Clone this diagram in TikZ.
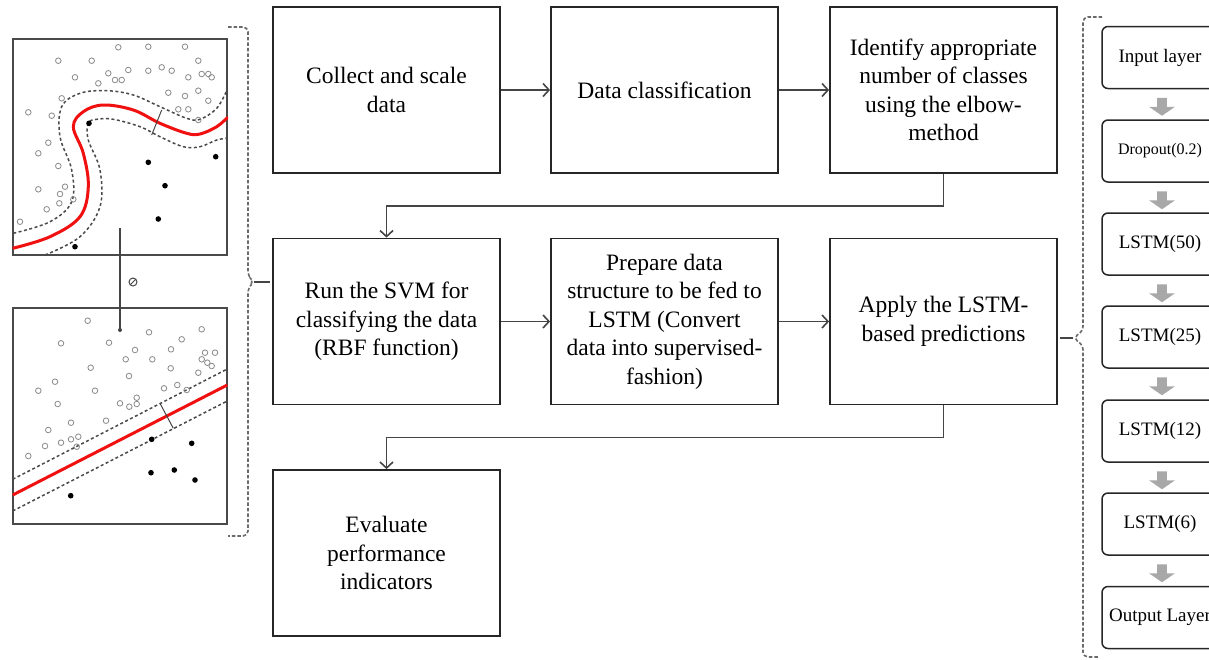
\documentclass[tikz,border=0pt]{standalone}
\usepackage{fontspec}
\setmainfont{Liberation Serif}
\usetikzlibrary{arrows.meta}

\definecolor{framegray}{HTML}{4A4A4A}
\definecolor{conngray}{HTML}{454545}
\definecolor{dashgray}{HTML}{6A6A6A}
\definecolor{blockgray}{HTML}{A8A8A8}
\definecolor{dotgray}{HTML}{8A8A8A}
\definecolor{svmred}{HTML}{F01010}

\begin{document}
\begin{tikzpicture}[x=1pt,y=-1pt,
  stepbox/.style={draw=black!85, line width=1.8pt, minimum width=227pt,
    minimum height=166pt, inner sep=0pt, align=center,
    font=\fontsize{23.5}{28.5}\selectfont},
  layerbox/.style={draw=black!85, line width=1.5pt, rounded corners=6pt,
    minimum width=116pt, minimum height=62pt, inner sep=0pt,
    font=\fontsize{19}{22}\selectfont},
  conn/.style={draw=conngray, line width=1.8pt,
    -{Straight Barb[length=6pt,width=13pt,line width=1.6pt]}},
  blockarrow/.style={fill=blockgray},
  bracedash/.style={draw=dashgray, line width=1.6pt, dash pattern=on 3.5pt off 2pt},
  panel/.style={draw=framegray, line width=2pt, minimum width=214pt,
    minimum height=216pt, inner sep=0pt},
  margin/.style={draw=framegray, line width=1.5pt, dash pattern=on 3pt off 2.5pt},
  boundary/.style={draw=svmred, line width=3pt},
  opendot/.style={draw=dotgray, line width=0.8pt},
  fulldot/.style={fill=black}
]
\useasboundingbox (0,0) rectangle (1209,659);
\fill[white] (0,0) rectangle (1209,659);

% ---------- flow chart ----------
\node[stepbox] (collect) at (386.5,90) {Collect and scale\\data};
\node[stepbox] (classify) at (664.5,90) {Data classification};
\node[stepbox] (elbow) at (943.5,90) {Identify appropriate\\number of classes\\using the elbow-\\method};
\node[stepbox] (svm) at (386.5,321.5) {Run the SVM for\\classifying the data\\(RBF function)};
\node[stepbox] (prep) at (664.5,321.5) {Prepare data\\structure to be fed to\\LSTM (Convert\\data into supervised-\\fashion)};
\node[stepbox] (apply) at (943.5,321.5) {Apply the LSTM-\\based predictions};
\node[stepbox] (evaluate) at (386.5,553) {Evaluate\\performance\\indicators};

\draw[conn] (collect) -- (classify);
\draw[conn] (classify) -- (elbow);
\draw[conn] (elbow.south) -- ++(0,32) -| (svm.north);
\draw[conn] (svm) -- (prep);
\draw[conn] (prep) -- (apply);
\draw[conn] (apply.south) -- ++(0,32) -| (evaluate.north);

% ---------- LSTM stack ----------
\node[layerbox] (l1) at (1160,57.5) {Input layer};
\node[layerbox, font=\fontsize{16}{19}\selectfont] (l2) at (1160,151) {Dropout(0.2)};
\node[layerbox] (l3) at (1160,244) {LSTM(50)};
\node[layerbox] (l4) at (1160,337) {LSTM(25)};
\node[layerbox] (l5) at (1160,431) {LSTM(12)};
\node[layerbox] (l6) at (1160,524) {LSTM(6)};
\node[layerbox] (l7) at (1160,617.5) {Output Layer};
% thick grey block arrows hanging below each layer
\foreach \a in {l1,l2,l3,l4,l5,l6}
  \fill[blockarrow, shift={(\a.south)}, xshift=2pt]
    (-4.8,8.5) -- (4.8,8.5) -- (4.8,17.5) -- (13,17.5) -- (0,26.5)
    -- (-13,17.5) -- (-4.8,17.5) -- cycle;

% brace around the LSTM stack
\draw[bracedash, rounded corners=5pt] (1102,17) -- (1083,17) -- (1083,331)
  -- (1073,338) -- (1083,345) -- (1083,657) -- (1098,657);
\coordinate (rtip) at (1073,338);
\coordinate (rend) at (1060,338);
\draw[conngray, line width=1.5pt] (rtip) -- (rend);

% ---------- SVM panels ----------
\node[panel] (nonlin) at (120,147) {};
\node[panel] (linear) at (120,415.5) {};

% non-linear boundary
\begin{scope}
\clip (nonlin.north west) rectangle (nonlin.south east);
\draw[boundary] plot[smooth, tension=0.6] coordinates {
 (12.7,248.3) (50,236.7) (80,216.7) (88.3,186.7) (83.3,153.3) (73.3,126.7)
 (83.3,111.7) (103.3,105) (133.3,110) (160,123.3) (186.7,133.3) (200,134)
 (216.7,126.7) (228,117)};
\draw[margin] plot[smooth, tension=0.6] coordinates {
 (13.3,233.3) (50,221.7) (71.7,201.7) (71.7,170) (60,136.7) (61.7,106.7)
 (80,93.3) (106.7,90.7) (133.3,95) (160,106.7) (186.7,118.3) (200,119.3)
 (216.7,108.3) (227,90)};
\draw[margin] plot[smooth, tension=0.6] coordinates {
 (45,255) (80,236.7) (100,206.7) (100,170) (88.3,140) (88.3,123.3)
 (96.7,119.3) (113.3,119.3) (140,126.7) (160,136.7) (183.3,146.7) (200,146.7)
 (216.7,140) (227,138.3)};
\end{scope}
\draw[conngray, line width=1pt] (161.7,110) -- (151.7,135);

\foreach \x/\y in {118.3/47.3,148.3/46.7,185/46.7,58.3/60.7,91.7/60.7,198.3/60.7,
  108.3/73.3,128.3/70,148.3/70.7,161.7/67.3,171.7/70.7,201.7/74,208.3/74,
  211.7/77.3,75/77.3,115/80,121.7/80,98.3/83.3,188.3/77.3,168.3/92.7,185/96,
  198.3/90.7,208.3/100.7,61.7/98.3,178.3/109.3,188.3/109.3,28.3/112.3,
  51.7/115.7,198.3/120,48.3/142.7,38.3/153.3,58.3/166,38.3/189.3,65/186.7,
  60/194,59.3/203.3,73.3/199.3,46.7/209.3,20/221.7}
  \draw[opendot] (\x,\y) circle (2.8pt);
\foreach \x/\y in {89/123.3,148.3/162.3,215.7/156.7,165/185.7,158.3/219,75/246.7}
  \fill[fulldot] (\x,\y) circle (2.8pt);

% linear boundary
\begin{scope}
\clip (linear.north west) rectangle (linear.south east);
\draw[boundary] (12.7,495) -- (227.3,385);
\draw[margin] (12.7,479.3) -- (227.3,369);
\draw[margin] (12.7,511) -- (227.3,401);
\end{scope}
\draw[conngray, line width=1pt] (160,403.3) -- (173.3,428.3);

\foreach \x/\y in {87.7/320.7,149/332.3,181.7/339.3,201.7/329.3,61/343.3,
  109/342.7,135/350,171/349.3,205/352.7,215/352.7,125.7/359.3,152.3/359.3,
  201.7/359.3,207.3/362.7,211.7/366,90.7/367.7,170.7/368.3,198.3/372.7,
  129/376,55/381.7,38.3/390.7,95/390.7,164/388.3,177.3/385,186.7/390,
  57.7/404,120/403.3,129.3/406.7,136.7/404,136.7/397.7,71/422.7,106/420.7,
  48.3/430,45/446,61/442.7,71/439.3,78.3/436.7,76.7/446.7,28.3/456}
  \draw[opendot] (\x,\y) circle (2.8pt);
\foreach \x/\y in {151.7/439.3,191.7/443.3,151/472.7,174.3/470,195/480,70.7/495.7}
  \fill[fulldot] (\x,\y) circle (2.8pt);

% mapping between the two panels
\coordinate (mapfrom) at (120,228);
\coordinate (mapto) at (120,330);
\draw[conngray, line width=1.3pt] (mapfrom) -- (mapto);
\fill[conngray] (mapto) circle (2pt);
\draw[conngray, line width=1pt] (133,282) circle (4pt);
\draw[conngray, line width=1pt] (130.3,284.7) -- (135.7,279.3);

% brace around the panels
\draw[bracedash, rounded corners=5pt] (228,27) -- (248,27) -- (248,276)
  -- (254,282) -- (248,288) -- (248,536) -- (228,536);
\coordinate (ltip) at (254,282);
\coordinate (lend) at (270,282);
\draw[conngray, line width=1.5pt] (ltip) -- (lend);
\end{tikzpicture}
\end{document}
